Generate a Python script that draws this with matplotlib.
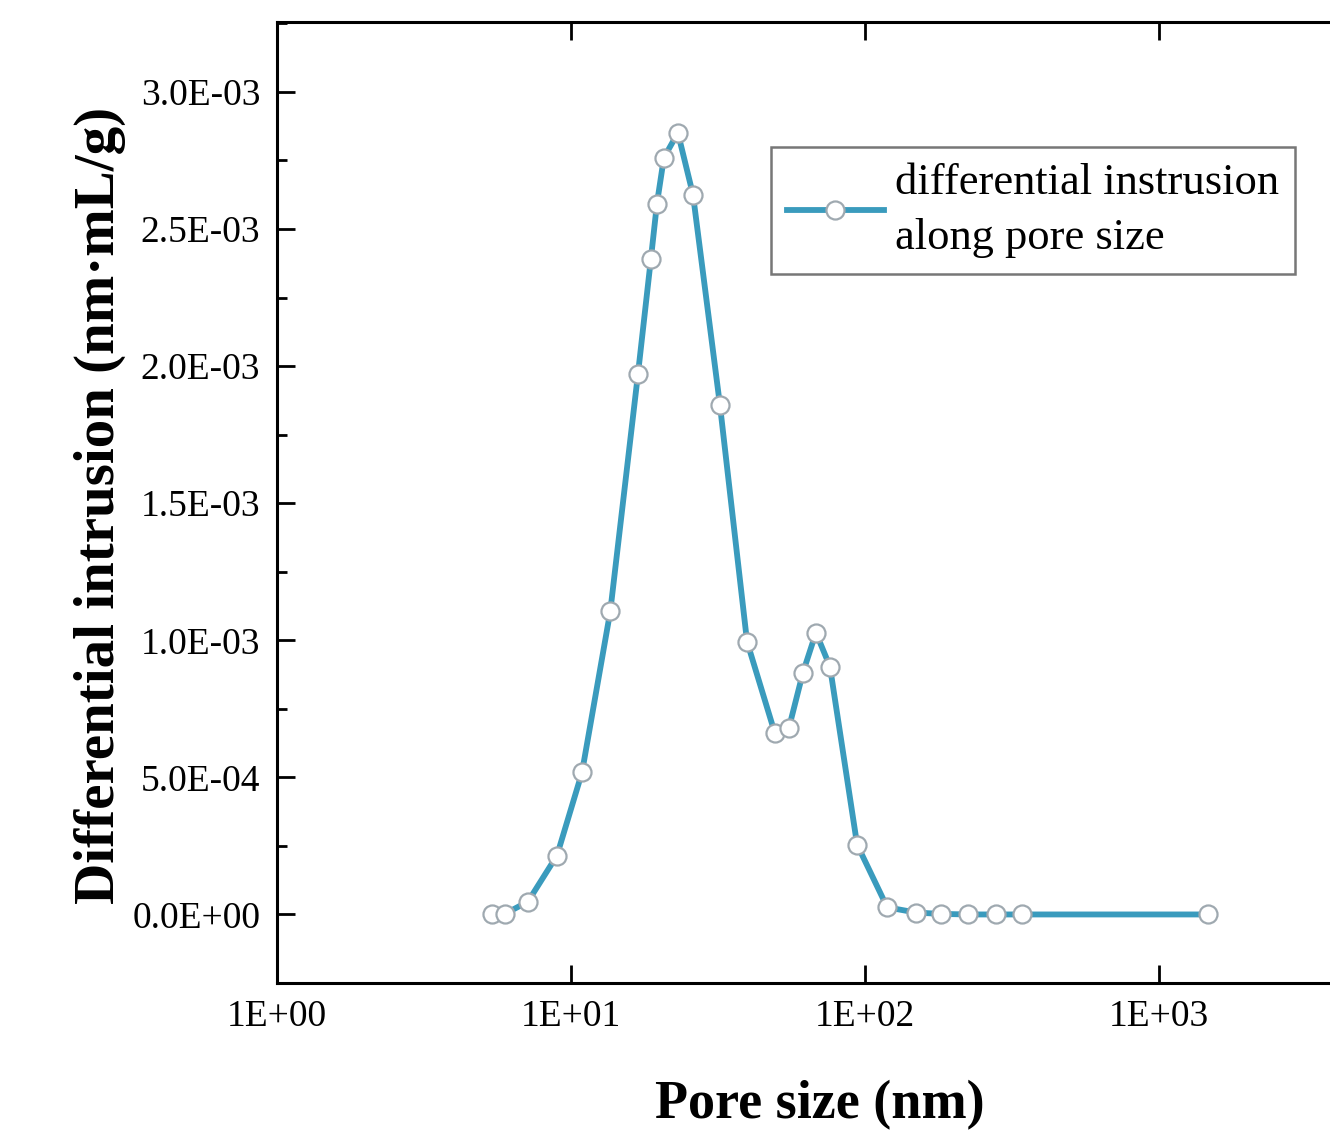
import numpy as np
import matplotlib
matplotlib.use("Agg")
import matplotlib.pyplot as plt
from matplotlib.ticker import FixedLocator, MultipleLocator, FuncFormatter

# pore size (nm) and differential intrusion (mL/g)
pore_size = [5.39, 5.96, 7.14, 8.96, 10.9, 13.6, 16.9, 18.7, 19.6, 20.7, 23.1,
             26.0, 32.1, 39.7, 49.4, 55.1, 61.5, 68.1, 76.0, 94.0, 119, 149,
             181, 224, 279, 342, 1468]
diff_intrusion = [0.0, 0.002e-3, 0.047e-3, 0.215e-3, 0.518e-3, 1.105e-3, 1.972e-3,
                  2.392e-3, 2.592e-3, 2.760e-3, 2.851e-3, 2.625e-3, 1.859e-3,
                  0.995e-3, 0.660e-3, 0.680e-3, 0.882e-3, 1.028e-3, 0.904e-3,
                  0.255e-3, 0.026e-3, 0.007e-3, 0.002e-3, 0.0, 0.0, 0.0, 0.0]

x_ticks = [1, 10, 100, 1000]
x_ticklabels = ["1E+00", "1E+01", "1E+02", "1E+03"]
y_ticks = [0, 0.5e-3, 1.0e-3, 1.5e-3, 2.0e-3, 2.5e-3, 3.0e-3]


def sci_label(v, pos):
    if v == 0:
        return "0.0E+00"
    e = int(np.floor(np.log10(abs(v)) + 1e-9))
    return "%.1fE%+03d" % (v / 10 ** e, e)


plt.rcParams['font.family'] = ['Liberation Serif', 'DejaVu Serif']

fig = plt.figure(figsize=(13.3, 11.4), dpi=100)
# the right part of the frame is cut off in the original, so the axes run past the edge
ax = fig.add_axes([277 / 1330, 157 / 1140, 1176 / 1330, 961 / 1140])

line_color = '#3a9bbd'
ax.plot(pore_size, diff_intrusion, color=line_color, lw=4.2, marker='o',
        markersize=13, markerfacecolor='white', markeredgecolor='#9fa9b0',
        markeredgewidth=1.6, label='differential instrusion\nalong pore size')

ax.set_xscale('log')
ax.set_xlim(1, 1e4)
ax.set_ylim(-0.25e-3, 3.255e-3)

ax.xaxis.set_major_locator(FixedLocator(x_ticks))
ax.set_xticklabels(x_ticklabels)
ax.xaxis.set_minor_locator(FixedLocator([]))
ax.yaxis.set_major_locator(FixedLocator(y_ticks))
ax.yaxis.set_minor_locator(MultipleLocator(0.25e-3))
ax.yaxis.set_major_formatter(FuncFormatter(sci_label))

ax.tick_params(which='both', direction='in', top=True, right=True, width=2)
ax.tick_params(which='major', length=13, labelsize=27, pad=12)
ax.tick_params(which='minor', length=7)
for s in ax.spines.values():
    s.set_linewidth(2.2)

ax.set_xlabel('Pore size (nm)', fontsize=39, fontweight='bold')
ax.xaxis.set_label_coords((820 - 277) / 1176, -(1105 - 983) / 961)
ax.xaxis.label.set_va('center')
ax.set_ylabel('Differential intrusion (nm·mL/g)', fontsize=41, fontweight='bold')
ax.yaxis.set_label_coords(-(277 - 100) / 1176, 0.497)
ax.yaxis.label.set_va('center')

leg = ax.legend(loc='upper left', bbox_to_anchor=((771 - 277) / 1176, 1 - (147 - 22) / 961),
                fontsize=32, frameon=True, fancybox=False, handlelength=2.2,
                borderpad=0.35, handletextpad=0.25, borderaxespad=0)
for t in leg.get_texts():
    t.set_linespacing(1.5)
leg.get_frame().set_edgecolor('#555555')
leg.get_frame().set_linewidth(1.8)

fig.savefig('out.png', dpi=100)
